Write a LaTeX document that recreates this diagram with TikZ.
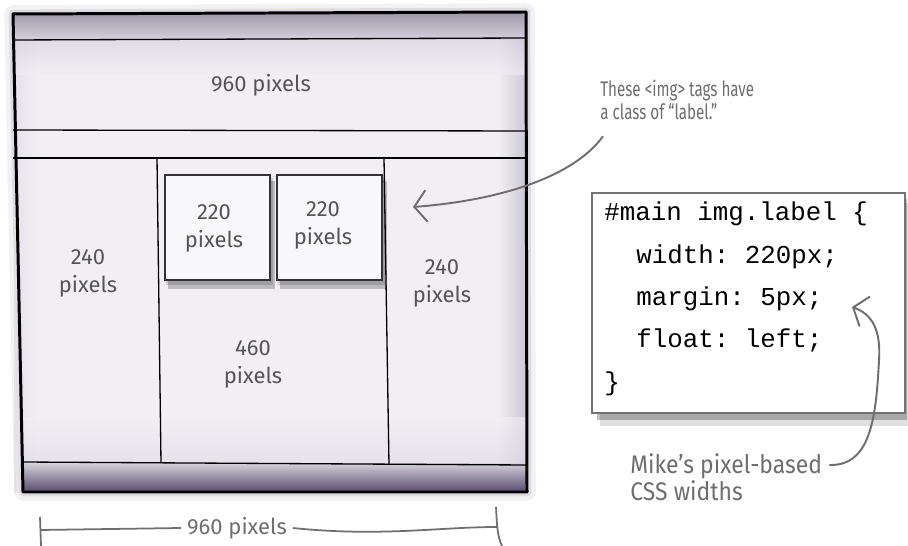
\documentclass[tikz,border=0pt]{standalone}
\usepackage{fontspec}
\setmainfont{Fira Sans}
\setmonofont{Liberation Mono}
\newfontfamily\handfont[FakeStretch=0.72]{Fira Sans}
\newfontfamily\widehandfont[FakeStretch=0.9]{Fira Sans}
\usetikzlibrary{arrows.meta,positioning}
\definecolor{inkgray}{HTML}{6E6E6E}
\definecolor{labelgray}{HTML}{555555}
\definecolor{paper}{HTML}{F1EFF4}
\definecolor{wash}{HTML}{D6D1DD}
\definecolor{bruise}{HTML}{55496A}
\tikzset{
  frameline/.style={line width=1.7pt,black,line join=round},
  gridline/.style={line width=0.75pt,black},
  boxlabel/.style={text=labelgray,font=\fontsize{12.5}{16}\selectfont,align=center},
  note/.style={text=inkgray,font=\handfont\fontsize{12}{13}\selectfont,align=left},
  bignote/.style={text=inkgray,font=\widehandfont\fontsize{14.5}{15.5}\selectfont,align=left},
  pointer/.style={inkgray,line width=1.1pt,-{Straight Barb[length=7pt,width=18pt]}},
  dimline/.style={inkgray,line width=1pt},
  imgbox/.style={draw=black!80,line width=0.9pt,fill=paper!50!white},
  codebox/.style={draw=black!55,line width=0.6pt,fill=white},
  codeline/.style={font=\ttfamily\fontsize{14.7}{16}\selectfont,anchor=base west,inner sep=0pt}
}
\begin{document}
\begin{tikzpicture}[x=0.02cm,y=-0.02cm]
  \useasboundingbox (0,0) rectangle (908,546);

    % layout of the page mock-up (image pixels)
    \def\xl{13}     % left edge of the page
    \def\xr{526}    % right edge of the page
    \def\ya{14}     % top edge
    \def\yb{40}     % under the top strip
    \def\yc{130}    % under the header
    \def\yd{158}    % top of the columns
    \def\ye{463}    % bottom of the columns
    \def\yf{492}    % bottom edge
    \def\cone{157}  % left column | main column
    \def\ctwo{384}  % main column | right column

    % -- washed paper with its dark edges --
    \draw[bruise,opacity=0.08,line width=10pt,line join=round]
      (\xl,\ya) -- (\xr,\ya-2) -- (\xr+1,\yf) -- (\xl+10,\yf) -- cycle;
    \draw[bruise,opacity=0.12,line width=5pt,line join=round]
      (\xl,\ya) -- (\xr,\ya-2) -- (\xr+1,\yf) -- (\xl+10,\yf) -- cycle;
    \fill[paper] (\xl,\ya) -- (\xr,\ya-2) -- (\xr+1,\yf) -- (\xl+10,\yf) -- cycle;
    \shade[left color=paper,right color=bruise!35,opacity=0.8] (\xr-28,\yb) rectangle (\xr,\yf);
    \shade[left color=wash!70,right color=paper,opacity=0.8] (\xl+1,\yb) rectangle (\xl+24,\yf);
    \shade[top color=bruise!55,bottom color=wash] (\xl,\ya) rectangle (\xr,\yb);
    \shade[top color=wash,bottom color=paper,opacity=0.6] (\xl,\yb) rectangle (\xr,\yb+35);
    \shade[top color=paper,bottom color=wash!80,opacity=0.6] (\xl+10,\ye-45) rectangle (\xr,\ye);
    \shade[top color=wash,bottom color=bruise] (\xl+10,\ye) rectangle (\xr,\yf);

    % -- the grid of the layout --
    \draw[gridline] (\xl,\yb) -- (\xr,\yb-2);
    \draw[gridline] (\xl,\yc) -- (\xr,\yc+1);
    \draw[gridline] (\xl,\yd) -- (\xr,\yd);
    \draw[gridline] (\xl+9,\ye-1) -- (\xr,\ye+2);
    \draw[gridline] (\cone,\yd) -- (\cone+4,\ye);
    \draw[gridline] (\ctwo,\yd) -- (\ctwo+5,\ye+2);
    \draw[frameline] (\xl,\ya) -- (\xr,\ya-2) -- (\xr+1,\yf) -- (\xl+10,\yf) -- cycle;

    % -- the two images, with their shadows --
    \foreach \bx in {165,277} {
      \fill[black,opacity=0.22] (\bx+3,181) rectangle (\bx+110,289);
      \fill[black,opacity=0.15] (\bx+1,178) rectangle (\bx+108,285);
      \draw[imgbox] (\bx,175) rectangle (\bx+105,280);
    }

    % -- labels inside the page --
    \node[boxlabel] (header) at (261,85) {960 pixels};
    \node[boxlabel] (imgone) at (214,228) {220\\pixels};
    \node[boxlabel] (imgtwo) at (323,225) {220\\pixels};
    \node[boxlabel] (leftcol) at (88,273) {240\\pixels};
    \node[boxlabel] (rightcol) at (442,283) {240\\pixels};
    \node[boxlabel] (maincol) at (253,364) {460\\pixels};

    % -- width of the whole page --
    \node[boxlabel,text=inkgray] (pagewidth) at (237,528) {960 pixels};
    \coordinate (dimL) at (40,530);
    \coordinate (dimR) at (497,527);
    \draw[dimline] (dimL) -- (pagewidth.west);
    \draw[dimline] (pagewidth.east) .. controls (380,537) and (440,527) .. (dimR);
    \draw[dimline] (40,517) -- (41,546);
    \draw[dimline] (496,507) .. controls (497,525) and (497,535) .. (502,546);

    % -- css code --
    \fill[black,opacity=0.12] (600,203) rectangle (908,426);
    \fill[black,opacity=0.25] (597,199) rectangle (907,420);
    \draw[codebox] (592,193) rectangle (905,413);
    \node[codeline] (sel)   at (604,221) {\#main img.label \{};
    \node[codeline] (width) at (636,264) {width: 220px;};
    \node[codeline] (margin) at (636,306) {margin: 5px;};
    \node[codeline] (float) at (636,348) {float: left;};
    \node[codeline] (close) at (604,391) {\}};

    % -- notes --
    \node[note,anchor=north west,inner sep=0pt] (tagnote) at (600,80) {These <img> tags have\\a class of “label.”};
    \coordinate (tagtip) at (413,207);
    \draw[pointer] (tagnote.south west) ++(3,16) .. controls (575,175) and (505,200) .. (tagtip);

    \node[bignote,anchor=north west,inner sep=0pt] (cssnote) at (630,453) {Mike’s pixel-based\\CSS widths};
    \coordinate (csstip) at (852,307);
    \draw[pointer] (cssnote.north east) ++(7,12) .. controls (870,466) and (876,420) .. (879,360)
      .. controls (881,330) and (872,314) .. (csstip);

\end{tikzpicture}
\end{document}
